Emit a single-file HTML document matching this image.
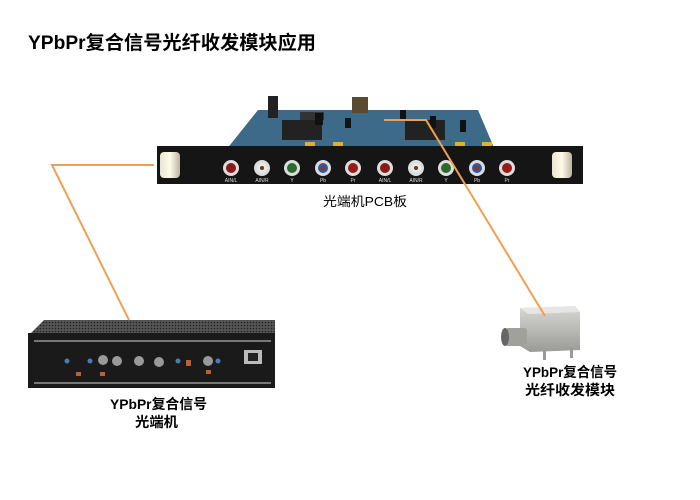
<!DOCTYPE html>
<html><head><meta charset="utf-8"><style>
body{margin:0;background:#fff;width:700px;height:495px;overflow:hidden}
text{font-family:"Liberation Sans","Noto Sans CJK SC",sans-serif}
</style></head><body>
<svg width="700" height="495" viewBox="0 0 700 495" xmlns="http://www.w3.org/2000/svg">
<defs>
<pattern id="perf" width="3" height="3" patternUnits="userSpaceOnUse"><rect width="3" height="3" fill="#555"/><circle cx="1.5" cy="1.5" r="0.8" fill="#222"/></pattern>
<linearGradient id="silver" x1="0" y1="0" x2="0" y2="1"><stop offset="0" stop-color="#d8d8d4"/><stop offset="1" stop-color="#9a9a96"/></linearGradient>
<linearGradient id="knob" x1="0" y1="0" x2="1" y2="0"><stop offset="0" stop-color="#e8e4d0"/><stop offset="0.5" stop-color="#fffbe8"/><stop offset="1" stop-color="#b8b4a0"/></linearGradient>
</defs>
<text x="28" y="49" font-size="19" font-weight="bold" fill="#000" textLength="288" lengthAdjust="spacingAndGlyphs">YPbPr复合信号光纤收发模块应用</text>

<!-- PCB -->
<polygon points="258,110 478,110 495,150 226,150" fill="#3d6a88"/>
<rect x="352" y="97" width="16" height="16" fill="#5a4a30"/>
<rect x="268" y="96" width="10" height="22" fill="#222"/>
<rect x="282" y="120" width="40" height="20" fill="#222"/>
<rect x="405" y="120" width="40" height="20" fill="#222"/>
<rect x="300" y="112" width="24" height="8" fill="#333"/>
<rect x="315" y="113" width="8" height="12" fill="#111"/>
<rect x="345" y="118" width="6" height="10" fill="#111"/>
<rect x="400" y="110" width="6" height="10" fill="#111"/>
<rect x="430" y="116" width="6" height="12" fill="#111"/>
<rect x="460" y="120" width="6" height="12" fill="#111"/>
<rect x="305" y="142" width="10" height="5" fill="#e0b030"/>
<rect x="333" y="142" width="10" height="5" fill="#e0b030"/>
<rect x="455" y="142" width="10" height="5" fill="#e0b030"/>
<rect x="482" y="142" width="10" height="5" fill="#e0b030"/>
<!-- front panel -->
<rect x="157" y="146" width="426" height="38" fill="#151515"/>
<rect x="160" y="152" width="20" height="26" rx="4" fill="url(#knob)"/>
<rect x="552" y="152" width="20" height="26" rx="4" fill="url(#knob)"/>
<g>
<circle cx="231" cy="168" r="8" fill="#ddd"/><circle cx="231" cy="168" r="5" fill="#8a1a1a"/>
<circle cx="262" cy="168" r="8" fill="#ddd"/><circle cx="262" cy="168" r="5" fill="#e8e8e8"/><circle cx="262" cy="168" r="2" fill="#5a3a20"/>
<circle cx="292" cy="168" r="8" fill="#ddd"/><circle cx="292" cy="168" r="5" fill="#2a6a2a"/>
<circle cx="323" cy="168" r="8" fill="#ddd"/><circle cx="323" cy="168" r="5" fill="#2a5aa8"/><circle cx="323" cy="168" r="2.5" fill="#8a3a20"/>
<circle cx="353" cy="168" r="8" fill="#ddd"/><circle cx="353" cy="168" r="5" fill="#9a1a1a"/>
<circle cx="385" cy="168" r="8" fill="#ddd"/><circle cx="385" cy="168" r="5" fill="#8a1a1a"/>
<circle cx="416" cy="168" r="8" fill="#ddd"/><circle cx="416" cy="168" r="5" fill="#e8e8e8"/><circle cx="416" cy="168" r="2" fill="#5a3a20"/>
<circle cx="446" cy="168" r="8" fill="#ddd"/><circle cx="446" cy="168" r="5" fill="#2a6a2a"/>
<circle cx="477" cy="168" r="8" fill="#ddd"/><circle cx="477" cy="168" r="5" fill="#2a5aa8"/><circle cx="477" cy="168" r="2.5" fill="#8a3a20"/>
<circle cx="507" cy="168" r="8" fill="#ddd"/><circle cx="507" cy="168" r="5" fill="#9a1a1a"/>
</g>
<g font-size="5" fill="#ddd" text-anchor="middle">
<text x="231" y="182">AIN/L</text><text x="262" y="182">AIN/R</text><text x="292" y="182">Y</text><text x="323" y="182">Pb</text><text x="353" y="182">Pr</text>
<text x="385" y="182">AIN/L</text><text x="416" y="182">AIN/R</text><text x="446" y="182">Y</text><text x="477" y="182">Pb</text><text x="507" y="182">Pr</text>
</g>
<text x="323" y="206" font-size="13" fill="#000" textLength="84" lengthAdjust="spacingAndGlyphs">光端机PCB板</text>

<!-- chassis -->
<polygon points="44,320 275,320 275,336 28,336" fill="url(#perf)"/>
<rect x="28" y="333" width="247" height="55" fill="#1a1a1a"/>
<g fill="#777">
<rect x="34" y="340" width="237" height="2"/>
<rect x="34" y="382" width="237" height="2"/>
</g>
<g fill="#c06030"><rect x="76" y="372" width="5" height="4"/><rect x="100" y="372" width="5" height="4"/><rect x="157" y="360" width="5" height="6"/><rect x="186" y="360" width="5" height="6"/><rect x="206" y="370" width="5" height="4"/></g>
<g fill="#999"><circle cx="103" cy="360" r="5"/><circle cx="117" cy="361" r="5"/><circle cx="139" cy="361" r="5"/><circle cx="159" cy="362" r="5"/><circle cx="208" cy="361" r="5"/></g>
<g fill="#4a7ab0"><circle cx="67" cy="361" r="2.5"/><circle cx="90" cy="361" r="2.5"/><circle cx="178" cy="361" r="2.5"/><circle cx="218" cy="361" r="2.5"/></g>
<rect x="244" y="350" width="18" height="14" fill="#bbb"/><rect x="248" y="353" width="10" height="8" fill="#222"/>
<text x="110" y="409" font-size="14" font-weight="bold" fill="#000" textLength="97" lengthAdjust="spacingAndGlyphs">YPbPr复合信号</text>
<text x="135" y="427" font-size="14" font-weight="bold" fill="#000" textLength="43" lengthAdjust="spacingAndGlyphs">光端机</text>

<!-- module -->
<polygon points="520,308 575,306 580,312 580,350 530,352 520,346" fill="url(#silver)"/>
<polygon points="520,308 575,306 580,312 528,314" fill="#e6e6e2"/>
<rect x="505" y="328" width="22" height="18" rx="3" fill="#a0a09c"/>
<ellipse cx="505" cy="337" rx="4" ry="9" fill="#666"/>
<rect x="543" y="350" width="3" height="10" fill="#999"/><rect x="570" y="348" width="3" height="10" fill="#999"/>
<text x="523" y="377" font-size="14" font-weight="bold" fill="#000" textLength="94" lengthAdjust="spacingAndGlyphs">YPbPr复合信号</text>
<text x="525" y="395" font-size="14" font-weight="bold" fill="#000" textLength="90" lengthAdjust="spacingAndGlyphs">光纤收发模块</text>

<!-- connectors -->
<polyline points="154,165 52,165 129,320" fill="none" stroke="#f0a050" stroke-width="2"/>
<polyline points="384,120 426,120 545,316" fill="none" stroke="#f0a050" stroke-width="2"/>
</svg>
</body></html>
